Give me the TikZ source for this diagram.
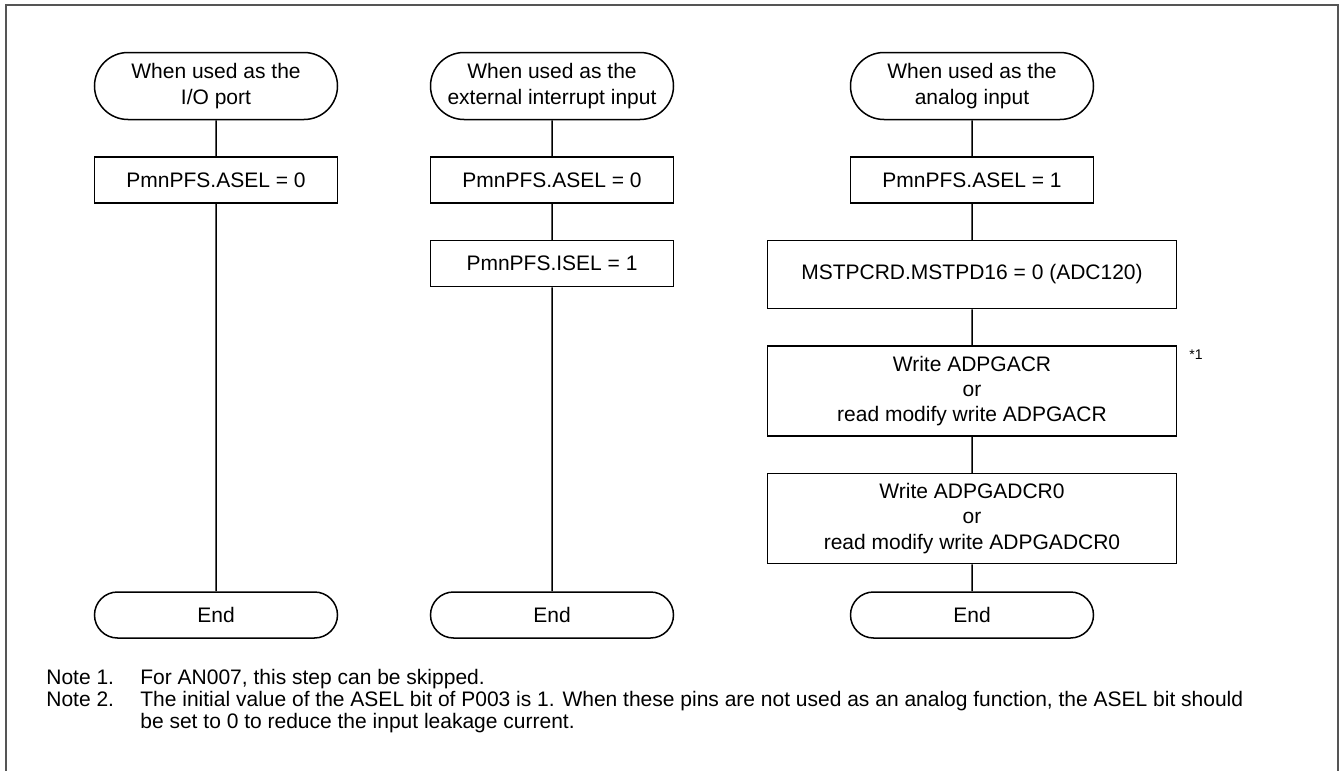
\documentclass[tikz,border=0pt]{standalone}
\usepackage{fontspec}
\setmainfont{Liberation Sans}
\usetikzlibrary{positioning,shapes.misc}
\definecolor{FrameGray}{HTML}{555555}
\newcommand{\boxfont}{\fontsize{10.5}{12.6}\selectfont}
\newcommand{\notefont}{\fontsize{10.5}{11}\selectfont}

\begin{document}
\begin{tikzpicture}[x=0.5pt,y=-0.5pt,
  node distance=18pt,
  flowline/.style={line width=0.75pt},
  terminal/.style={draw,rounded rectangle,line width=0.75pt,minimum width=121.5pt,
    inner sep=0pt,align=center,font=\boxfont},
  procbox/.style={draw,rectangle,line width=0.75pt,minimum width=121.5pt,
    minimum height=23pt,inner sep=0pt,align=center,font=\boxfont},
  widebox/.style={procbox,minimum width=204.5pt},
  notetext/.style={anchor=base west,inner sep=0pt,font=\notefont}]
  \useasboundingbox (0,0) rectangle (1341,771);
  \draw[FrameGray,line width=1pt] (6,771) -- (6,5) -- (1338,5) -- (1338,771);

  % I/O port
  \node[terminal,minimum height=33.5pt] (ioStart) at (216,86) {When used as the\\I/O port};
  \node[procbox,below=of ioStart] (ioAsel) {PmnPFS.ASEL = 0};
  \node[terminal,minimum height=23pt] (ioEnd) at (216,615) {End};
  \draw[flowline] (ioStart) -- (ioAsel) -- (ioEnd);

  % external interrupt input
  \node[terminal,minimum height=33.5pt] (irqStart) at (552,86) {When used as the\\external interrupt input};
  \node[procbox,below=of irqStart] (irqAsel) {PmnPFS.ASEL = 0};
  \node[procbox,below=of irqAsel] (irqIsel) {PmnPFS.ISEL = 1};
  \node[terminal,minimum height=23pt] (irqEnd) at (552,615) {End};
  \draw[flowline] (irqStart) -- (irqAsel) -- (irqIsel) -- (irqEnd);

  % analog input
  \node[terminal,minimum height=33.5pt] (anStart) at (972,86) {When used as the\\analog input};
  \node[procbox,below=of anStart] (anAsel) {PmnPFS.ASEL = 1};
  \node[widebox,minimum height=34pt,below=of anAsel] (anMstp) {MSTPCRD.MSTPD16 = 0 (ADC120)};
  \node[widebox,minimum height=45pt,below=of anMstp] (anGacr) {Write ADPGACR\\or\\read modify write ADPGACR};
  \node[widebox,minimum height=45pt,below=of anGacr] (anGadcr) {Write ADPGADCR0\\or\\read modify write ADPGADCR0};
  \node[terminal,minimum height=23pt] (anEnd) at (972,615) {End};
  \draw[flowline] (anStart) -- (anAsel) -- (anMstp) -- (anGacr) -- (anGadcr) -- (anEnd);
  \node[anchor=north west,inner sep=0pt,font=\fontsize{7}{8}\selectfont] (gacrMark) at (1189,349) {*1};

  % notes
  \node[notetext] (note1) at (46,684) {Note 1.};
  \node[notetext] (note1txt) at (140,684) {For AN007, this step can be skipped.};
  \node[notetext] (note2) at (46,706) {Note 2.};
  \node[notetext] (note2txt) at (140,706) {The initial value of the ASEL bit of P003 is 1. When these pins are not used as an analog function, the ASEL bit should};
  \node[notetext] (note2more) at (140,728) {be set to 0 to reduce the input leakage current.};
\end{tikzpicture}
\end{document}
